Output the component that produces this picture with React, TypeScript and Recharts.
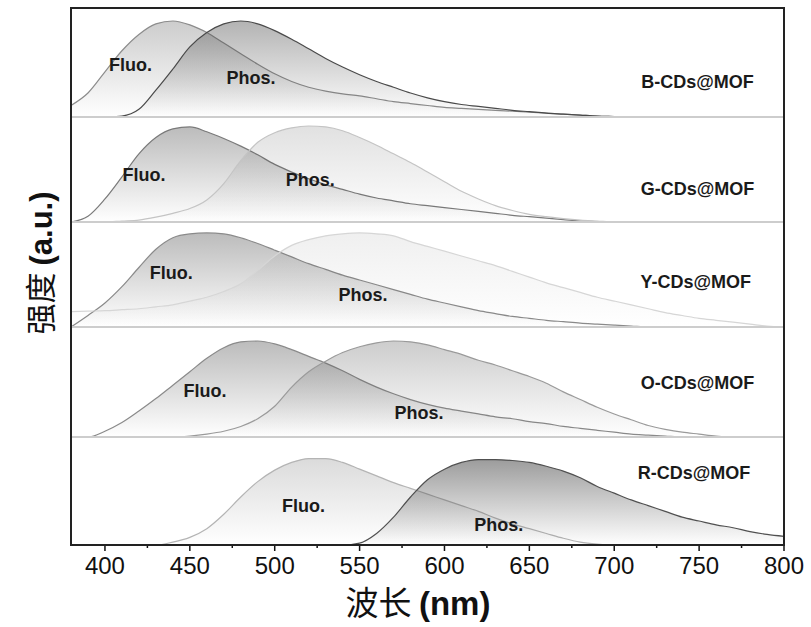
import React from "react";
import { AreaChart, Area, XAxis, YAxis, ReferenceLine, ReferenceDot } from "recharts";

// emission wavelength grid (nm)
const wavelength = [
    380, 390, 400, 410, 420, 430, 440, 450, 460, 470, 480, 490, 500, 510, 520, 530, 540, 550, 560, 570, 580, 590,
    600, 610, 620, 630, 640, 650, 660, 670, 680, 690, 700, 710, 720, 730, 740, 750, 760, 770, 780, 790, 800,
];

const xTicks = [400, 425, 450, 475, 500, 525, 550, 575, 600, 625, 650, 675, 700, 725, 750, 775, 800];

const bFluo = [0.12, 0.25, 0.47, 0.69, 0.86, 0.97, 1.0, 0.96, 0.88, 0.77, 0.66, 0.55, 0.45, 0.37, 0.31, 0.27, 0.24, 0.22, 0.19, 0.16, 0.14, 0.12, 0.1, 0.09, 0.08, 0.07, 0.06, 0.05, 0.04, 0.03, 0.02, 0.01, 0.005, 0, 0, 0, 0, 0, 0, 0, 0, 0, 0];
const bPhos = [0, 0, 0, 0.01, 0.08, 0.28, 0.5, 0.73, 0.88, 0.97, 1.0, 0.97, 0.9, 0.81, 0.71, 0.61, 0.52, 0.44, 0.37, 0.31, 0.25, 0.2, 0.16, 0.13, 0.11, 0.09, 0.07, 0.055, 0.04, 0.03, 0.02, 0.01, 0.005, 0, 0, 0, 0, 0, 0, 0, 0, 0, 0];
const gFluo = [0, 0.06, 0.24, 0.47, 0.71, 0.88, 0.97, 0.99, 0.94, 0.87, 0.79, 0.7, 0.6, 0.52, 0.45, 0.39, 0.34, 0.29, 0.25, 0.22, 0.19, 0.17, 0.15, 0.13, 0.11, 0.09, 0.07, 0.055, 0.04, 0.025, 0.01, 0.005, 0, 0, 0, 0, 0, 0, 0, 0, 0, 0, 0];
const gPhos = [0, 0, 0, 0.01, 0.02, 0.05, 0.09, 0.14, 0.23, 0.4, 0.64, 0.83, 0.93, 0.98, 1.0, 0.99, 0.95, 0.88, 0.8, 0.71, 0.62, 0.52, 0.42, 0.32, 0.24, 0.17, 0.12, 0.08, 0.055, 0.035, 0.02, 0.01, 0, 0, 0, 0, 0, 0, 0, 0, 0, 0, 0];
const yFluo = [0, 0.12, 0.25, 0.42, 0.62, 0.81, 0.93, 0.97, 0.98, 0.97, 0.93, 0.87, 0.8, 0.73, 0.66, 0.6, 0.54, 0.49, 0.44, 0.39, 0.34, 0.29, 0.25, 0.21, 0.17, 0.14, 0.11, 0.09, 0.07, 0.055, 0.04, 0.03, 0.02, 0.01, 0, 0, 0, 0, 0, 0, 0, 0, 0];
const yPhos = [0.16, 0.165, 0.17, 0.18, 0.19, 0.21, 0.23, 0.27, 0.31, 0.37, 0.45, 0.59, 0.74, 0.85, 0.91, 0.95, 0.97, 0.98, 0.97, 0.95, 0.89, 0.84, 0.79, 0.74, 0.69, 0.64, 0.58, 0.52, 0.46, 0.41, 0.36, 0.31, 0.27, 0.23, 0.19, 0.15, 0.12, 0.09, 0.07, 0.05, 0.03, 0.01, 0];
const oFluo = [0, 0, 0.06, 0.15, 0.27, 0.4, 0.54, 0.68, 0.82, 0.93, 0.99, 1.0, 0.97, 0.91, 0.84, 0.77, 0.69, 0.6, 0.52, 0.45, 0.39, 0.34, 0.3, 0.27, 0.24, 0.21, 0.19, 0.16, 0.14, 0.11, 0.09, 0.07, 0.05, 0.03, 0.02, 0.01, 0, 0, 0, 0, 0, 0, 0];
const oPhos = [0, 0, 0, 0, 0, 0, 0, 0.01, 0.03, 0.06, 0.11, 0.19, 0.32, 0.52, 0.68, 0.79, 0.88, 0.94, 0.98, 1.0, 0.99, 0.96, 0.91, 0.86, 0.8, 0.75, 0.69, 0.63, 0.56, 0.47, 0.39, 0.31, 0.24, 0.18, 0.12, 0.08, 0.05, 0.03, 0.01, 0, 0, 0, 0];
const rFluo = [0, 0, 0, 0, 0, 0, 0.03, 0.08, 0.17, 0.32, 0.5, 0.66, 0.78, 0.86, 0.9, 0.9, 0.86, 0.79, 0.72, 0.65, 0.59, 0.53, 0.47, 0.41, 0.35, 0.28, 0.22, 0.17, 0.12, 0.07, 0.03, 0.01, 0, 0, 0, 0, 0, 0, 0, 0, 0, 0, 0];
const rPhos = [0, 0, 0, 0, 0, 0, 0, 0, 0, 0, 0, 0, 0, 0, 0, 0, 0, 0.02, 0.12, 0.29, 0.5, 0.68, 0.79, 0.86, 0.89, 0.89, 0.88, 0.86, 0.82, 0.77, 0.7, 0.61, 0.54, 0.47, 0.41, 0.35, 0.29, 0.25, 0.21, 0.18, 0.14, 0.11, 0.09];

const sampleNames = ["B-CDs@MOF", "G-CDs@MOF", "Y-CDs@MOF", "O-CDs@MOF", "R-CDs@MOF"];

const LATIN = "'Liberation Sans', Arial, sans-serif";
const CJK = "'Noto Sans CJK SC', sans-serif";

// layout of each stacked panel (pixels) + look of its two curves
const panels = [
    { name: sampleNames[0], fluo: bFluo, phos: bPhos, top: 8, h: 109, fA: 0.45, pA: 0.68, fS: "#8c8c8c", pS: "#4a4a4a",
      fluoAt: [415, 0.54], phosAt: [486, 0.41], nameAt: [749, 0.36] },
    { name: sampleNames[1], fluo: gFluo, phos: gPhos, top: 117, h: 105, fA: 0.6, pA: 0.27, fS: "#7a7a7a", pS: "#c4c4c4",
      fluoAt: [423, 0.49], phosAt: [521, 0.44], nameAt: [749, 0.34] },
    { name: sampleNames[2], fluo: yFluo, phos: yPhos, top: 222, h: 105, fA: 0.6, pA: 0.14, fS: "#8a8a8a", pS: "#d6d6d6",
      fluoAt: [439, 0.56], phosAt: [552, 0.33], nameAt: [748, 0.47] },
    { name: sampleNames[3], fluo: oFluo, phos: oPhos, top: 327, h: 110, fA: 0.6, pA: 0.45, fS: "#8a8a8a", pS: "#9a9a9a",
      fluoAt: [459, 0.48], phosAt: [585, 0.25], nameAt: [749, 0.56] },
    { name: sampleNames[4], fluo: rFluo, phos: rPhos, top: 437, h: 108, fA: 0.32, pA: 0.88, fS: "#b4b4b4", pS: "#505050",
      fluoAt: [517, 0.41], phosAt: [632, 0.21], nameAt: [747, 0.75] },
];

const TextMark = (props: any) => {
    const { viewBox, value } = props;
    const x = viewBox.x + (viewBox.width || 0) / 2;
    const y = viewBox.y + (viewBox.height || 0) / 2;
    return (
        <text x={x} y={y} textAnchor="middle" dominantBaseline="central" fontFamily={LATIN} fontWeight="bold" fontSize={18} fill="#1a1a1a">
            {value}
        </text>
    );
};

const AxisTick = (props: any) => {
    const { x, y, payload } = props;
    const major = payload.value % 50 === 0;
    return (
        <g>
            <line x1={x} x2={x} y1={y} y2={y + (major ? 6 : 3)} stroke="#111" strokeWidth={1.5} />
            {major && (
                <text x={x} y={y + 29} textAnchor="middle" fontFamily={LATIN} fontSize={24} fill="#111">
                    {payload.value}
                </text>
            )}
        </g>
    );
};

const XTitle = () => (
    <text x={418} y={178} textAnchor="middle" fontSize={33} fill="#111">
        <tspan fontFamily={CJK}>波长 </tspan>
        <tspan fontFamily={LATIN} fontWeight="bold">(nm)</tspan>
    </text>
);

const AXIS_H = 82;

export default function App() {
    return (
        <div style={{ position: "absolute", left: 0, top: 0, width: 811, height: 627, background: "#fff" }}>
            {panels.map((p, i) => {
                const last = i === panels.length - 1;
                const rows = wavelength.map((w, k) => ({ w, fluo: p.fluo[k], phos: p.phos[k] }));
                const height = last ? p.h + AXIS_H : p.h + 2;
                return (
                    <div key={p.name} style={{ position: "absolute", left: 0, top: p.top }}>
                        <AreaChart width={811} height={height} data={rows} margin={{ top: 0, right: 27, bottom: last ? 0 : 2, left: 71 }}>
                            <defs>
                                <linearGradient id={`gf${i}`} x1="0" y1="0" x2="0" y2="1">
                                    <stop offset="0" stopColor="#444" stopOpacity={p.fA} />
                                    <stop offset="1" stopColor="#444" stopOpacity={0} />
                                </linearGradient>
                                <linearGradient id={`gp${i}`} x1="0" y1="0" x2="0" y2="1">
                                    <stop offset="0" stopColor="#444" stopOpacity={p.pA} />
                                    <stop offset="1" stopColor="#444" stopOpacity={0} />
                                </linearGradient>
                            </defs>
                            <XAxis
                                dataKey="w"
                                type="number"
                                domain={[380, 800]}
                                allowDataOverflow
                                hide={!last}
                                ticks={xTicks}
                                interval={0}
                                tick={<AxisTick />}
                                tickLine={false}
                                tickSize={0}
                                tickMargin={0}
                                axisLine={{ stroke: "#111", strokeWidth: 2 }}
                                height={AXIS_H}
                                label={last ? { content: () => <XTitle /> } : undefined}
                            />
                            <YAxis hide domain={[0, p.h / 96]} allowDataOverflow />
                            {!last && <ReferenceLine y={0} stroke="#cdcdcd" strokeWidth={2} />}
                            <Area type="monotone" dataKey="fluo" stroke={p.fS} strokeWidth={1.2} fill={`url(#gf${i})`} isAnimationActive={false} />
                            <Area type="monotone" dataKey="phos" stroke={p.pS} strokeWidth={1.2} fill={`url(#gp${i})`} isAnimationActive={false} />
                            <ReferenceDot x={p.fluoAt[0]} y={p.fluoAt[1]} r={0} label={{ value: "Fluo.", content: TextMark }} />
                            <ReferenceDot x={p.phosAt[0]} y={p.phosAt[1]} r={0} label={{ value: "Phos.", content: TextMark }} />
                            <ReferenceDot x={p.nameAt[0]} y={p.nameAt[1]} r={0} label={{ value: p.name, content: TextMark }} />
                        </AreaChart>
                    </div>
                );
            })}
            {/* outer frame */}
            <div style={{ position: "absolute", left: 70, top: 7, width: 715, height: 539, border: "2px solid #222", boxSizing: "border-box", pointerEvents: "none" }} />
            <svg width={80} height={627} style={{ position: "absolute", left: 0, top: 0 }}>
                <text transform="translate(52,263) rotate(-90)" textAnchor="middle" fontSize={31} fill="#111">
                    <tspan fontFamily={CJK}>强度 </tspan>
                    <tspan fontFamily={LATIN} fontWeight="bold">(a.u.)</tspan>
                </text>
            </svg>
        </div>
    );
}
